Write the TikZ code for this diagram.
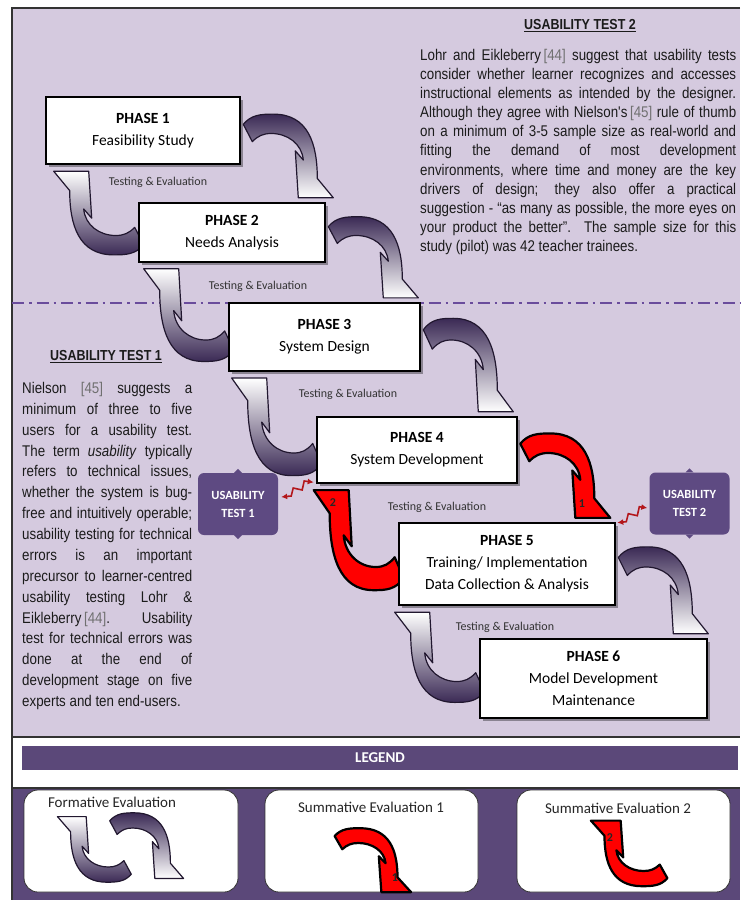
\documentclass[tikz,border=0pt]{standalone}
\usepackage{fontspec}
\setmainfont{Carlito}
\newfontfamily\arialn[FakeStretch=0.86]{Liberation Sans}
\usetikzlibrary{shadows,arrows.meta}
\pgfdeclarelayer{back}
\pgfdeclarelayer{arr}
\pgfsetlayers{back,arr,main}
\definecolor{bgpurple}{HTML}{D5CADF}
\definecolor{darkpurple}{HTML}{5B4879}
\definecolor{boxpurple}{HTML}{5E4A82}
\definecolor{arrowpurple}{HTML}{3B2A55}
\definecolor{outlinep}{HTML}{21172F}
\definecolor{dashp}{HTML}{6A4C9C}
\definecolor{zzred}{HTML}{B3161B}
\definecolor{txt}{HTML}{1B1B1B}
\definecolor{cite}{HTML}{707070}
\tikzset{
  phase/.style={draw=black, line width=2.6pt, fill=white, align=center,
    font=\fontsize{15.5}{22}\selectfont, inner sep=0pt,
    drop shadow={shadow xshift=3pt, shadow yshift=-3pt, opacity=0.35, fill=black}},
  tlabel/.style={font=\fontsize{12}{14}\selectfont, text=black!80, inner sep=0pt},
  ubox/.style={fill=boxpurple, rounded corners=6pt, minimum width=80pt, minimum height=62pt,
    text=white, font=\bfseries\fontsize{12.5}{18}\selectfont, align=center, inner sep=0pt},
  legbox/.style={draw=black!80, line width=0.8pt, fill=white, rounded corners=14pt, inner sep=0pt},
  legtext/.style={font=\fontsize{15}{18}\selectfont, text=black!85, inner sep=0pt},
  numl/.style={font=\bfseries\fontsize{12}{14}\selectfont, text=black!85, inner sep=0pt},
  framel/.style={draw=black!80, line width=1.5pt},
  zz/.style={draw=zzred, line width=1.6pt, line join=miter,
    arrows={Latex[length=6pt,width=6pt]-Latex[length=6pt,width=6pt]}},
  purpR/.style={draw=outlinep, line width=1.2pt, line join=round, top color=arrowpurple,
    middle color=arrowpurple!45!white, bottom color=white},
  purpL/.style={draw=outlinep, line width=1.2pt, line join=round, top color=white,
    middle color=arrowpurple!45!white, bottom color=arrowpurple},
  redA/.style={draw=black, line width=2.2pt, line join=round, fill=red},
  rarrow/.pic={\path[#1] (-4,-9) to[out=50,in=180] (26,-19)
      to[out=0,in=90,looseness=1.15] (70,44) -- (86,63) -- (51,63) -- (48,17) -- (56,26)
      to[out=95,in=0] (24,0) to[out=180,in=45] (5,8) -- cycle;},
  larrow/.pic={\path[#1] (4,9) to[out=-130,in=0] (-26,19)
      to[out=180,in=-90,looseness=1.15] (-70,-44) -- (-86,-63) -- (-51,-63) -- (-48,-17) -- (-56,-26)
      to[out=-85,in=180] (-24,0) to[out=0,in=-135] (-5,-8) -- cycle;},
}
\begin{document}
\begin{tikzpicture}[x=1pt,y=-1pt]
\useasboundingbox (0,0) rectangle (740,900);
\begin{pgfonlayer}{back}
  \fill[bgpurple] (12,8) rectangle (740,737);
  \fill[white] (12,737) rectangle (740,788);
  \fill[darkpurple] (12,788) rectangle (740,900);
  \draw[framel] (740,8) -- (12,8) -- (12,900);
  \draw[framel] (12,737) -- (740,737);
  \draw[framel] (12,788) -- (740,788);
  \draw[dashp, line width=2pt, dash pattern=on 12pt off 5pt on 2.5pt off 5pt] (12,303) -- (740,303);
\end{pgfonlayer}

% phase boxes
\node[phase, minimum width=194pt, minimum height=67pt] (p1) at (143,130.5) {\textbf{PHASE 1}\\Feasibility Study};
\node[phase, minimum width=186pt, minimum height=59pt] (p2) at (232,232.5) {\textbf{PHASE 2}\\Needs Analysis};
\node[phase, minimum width=191pt, minimum height=68pt] (p3) at (324.5,337) {\textbf{PHASE 3}\\System Design};
\node[phase, minimum width=200pt, minimum height=66pt] (p4) at (417,450) {\textbf{PHASE 4}\\System Development};
\node[phase, minimum width=216pt, minimum height=82pt] (p5) at (507,564) {\textbf{PHASE 5}\\Training/ Implementation\\Data Collection \& Analysis};
\node[phase, minimum width=227pt, minimum height=79pt] (p6) at (593.5,678.5) {\textbf{PHASE 6}\\Model Development\\Maintenance};

% curved arrows
\begin{pgfonlayer}{arr}
  \pic[yscale=1.02] at ([xshift=6pt,yshift=-3pt]p1.east) {rarrow=purpR};
  \pic[yscale=0.99] at ([xshift=6pt,yshift=-3pt]p2.east) {rarrow=purpR};
  \pic[yscale=1.14] at ([xshift=6pt,yshift=-3pt]p3.east) {rarrow=purpR};
  \pic[yscale=1.03] at ([xshift=6pt,yshift=-3pt]p4.east) {rarrow=redA};
  \pic[yscale=1.06] at ([xshift=6pt,yshift=-3pt]p5.east) {rarrow=purpR};
  \pic[yscale=1.02] at ([xshift=2pt,yshift=-3pt]p2.west) {larrow=purpL};
  \pic[yscale=1.13] at ([xshift=2pt,yshift=-3pt]p3.west) {larrow=purpL};
  \pic[yscale=1.19] at ([xshift=2pt,yshift=-3pt]p4.west) {larrow=purpL};
  \pic[yscale=1.22] at ([xshift=2pt,yshift=-3pt]p5.west) {larrow=redA};
  \pic[yscale=1.10] at ([xshift=2pt,yshift=-3pt]p6.west) {larrow=purpL};
\end{pgfonlayer}
\node[numl] (n1) at (582,504) {1};
\node[numl] (n2) at (333,503) {2};

% testing labels
\node[tlabel] (te1) at (158,182) {Testing \& Evaluation};
\node[tlabel] (te2) at (258,286) {Testing \& Evaluation};
\node[tlabel] (te3) at (348,394) {Testing \& Evaluation};
\node[tlabel] (te4) at (437,507) {Testing \& Evaluation};
\node[tlabel] (te5) at (505,627) {Testing \& Evaluation};

% usability boxes
\node[ubox] (ut1) at (238,504) {USABILITY\\TEST 1};
\node[ubox] (ut2) at (689.5,503.5) {USABILITY\\TEST 2};
\foreach \u in {ut1,ut2}{
  \fill[boxpurple] ([xshift=-4pt]\u.north) -- ([yshift=4pt]\u.north) -- ([xshift=4pt]\u.north) -- cycle;
  \fill[boxpurple] ([xshift=-4pt]\u.south) -- ([yshift=-4pt]\u.south) -- ([xshift=4pt]\u.south) -- cycle;
}
\draw[zz] ([xshift=3pt,yshift=7pt]ut1.east) -- ++(10,-1) -- ++(2,-8) -- ++(9,2) -- ++(2,-9) -- ([xshift=-2pt,yshift=2pt]p4.south west);
\draw[zz] ([xshift=1pt,yshift=-1pt]p5.north east) -- ++(9,-1) -- ++(2,-8) -- ++(9,2) -- ++(2,-9) -- ([xshift=-2pt,yshift=-4.5pt]ut2.west);

% texts
\node[font=\arialn\bfseries\fontsize{14.5}{18}\selectfont, text=txt] (t2) at (580,26) {\underline{USABILITY TEST 2}};
\node[anchor=north west, text width=316pt, align=justify, inner sep=0pt, text=txt,
  font=\arialn\fontsize{15.5}{19.1}\selectfont] (para2) at (420,49) {%
Lohr and Eikleberry\,{\color{cite}[44]} suggest that usability tests\linebreak
consider whether learner recognizes and accesses\linebreak
instructional elements as intended by the designer.\linebreak
Although they agree with Nielson's\,{\color{cite}[45]} rule of thumb\linebreak
on a minimum of 3-5 sample size as real-world and\linebreak
fitting the demand of most development\linebreak
environments, where time and money are the key\linebreak
drivers of design; they also offer a practical\linebreak
suggestion - “as many as possible, the more eyes on\linebreak
your product the better”.\ \ The sample size for this\linebreak
study (pilot) was 42 teacher trainees.};

\node[font=\arialn\bfseries\fontsize{14.5}{18}\selectfont, text=txt] (t1) at (106,357) {\underline{USABILITY TEST 1}};
\node[anchor=north west, text width=170pt, align=justify, inner sep=0pt, text=txt,
  font=\arialn\fontsize{15.5}{20.87}\selectfont] (para1) at (22,382) {%
Nielson {\color{cite}[45]} suggests a\linebreak
minimum of three to five\linebreak
users for a usability test.\linebreak
The term \textit{usability} typically\linebreak
refers to technical issues,\linebreak
whether the system is bug-\linebreak
free and intuitively operable;\linebreak
usability testing for technical\linebreak
errors is an important\linebreak
precursor to learner-centred\linebreak
usability testing Lohr \&\linebreak
Eikleberry\,{\color{cite}[44]}.\ \ Usability\linebreak
test for technical errors was\linebreak
done at the end of\linebreak
development stage on five\linebreak
experts and ten end-users.};

% legend
\node[fill=darkpurple, minimum width=716pt, minimum height=24pt, inner sep=0pt, text=white,
  font=\bfseries\fontsize{15}{18}\selectfont] (legend) at (380,758) {LEGEND};
\node[legbox, minimum width=214pt, minimum height=102pt] (lb1) at (131,841) {};
\node[legbox, minimum width=213pt, minimum height=102pt] (lb2) at (371.5,841) {};
\node[legbox, minimum width=213pt, minimum height=102pt] (lb3) at (623.5,841) {};
\node[legtext] (lt1) at (112,802) {Formative Evaluation};
\node[legtext] (lt2) at (371,807) {Summative Evaluation 1};
\node[legtext] (lt3) at (618,808) {Summative Evaluation 2};
\pic[xscale=0.82, yscale=0.8] at (113,828) {rarrow=purpR};
\pic[xscale=0.82, yscale=0.8] at (128,867) {larrow=purpL};
\pic[xscale=0.85, yscale=0.78] at (338,843) {rarrow=redA};
\pic[xscale=0.85, yscale=0.8] at (664,871) {larrow=redA};
\node[numl] (ln1) at (395,878) {1};
\node[numl] (ln2) at (610,838) {2};
\end{tikzpicture}
\end{document}
